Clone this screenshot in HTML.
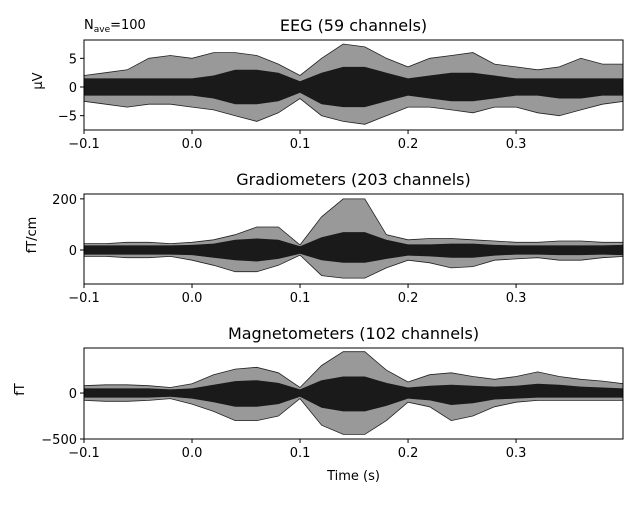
<!DOCTYPE html>
<html><head><meta charset="utf-8">
<style>
body{margin:0;background:#fff;}
svg text{font-family:"DejaVu Sans","Liberation Sans",sans-serif;fill:#000;}
</style></head>
<body>
<svg id="chart" width="640" height="500" xmlns="http://www.w3.org/2000/svg">
<rect width="640" height="500" fill="#fff"/>
<text x="84" y="29" font-size="13">N<tspan font-size="9" dy="3">ave</tspan><tspan dy="-3">=100</tspan></text>
</svg>
<script>
const times = [-0.1,-0.08,-0.06,-0.04,-0.02,0,0.02,0.04,0.06,0.08,0.1,0.12,0.14,0.16,0.18,0.2,0.22,0.24,0.26,0.28,0.3,0.32,0.34,0.36,0.38,0.4];
const xTicks = [-0.1,0.0,0.1,0.2,0.3];
const xTickLabels = ["\u22120.1","0.0","0.1","0.2","0.3"];

const eegUpper = [2,2.5,3,5,5.5,5,6,6,5.5,4,2,5,7.5,7,5,3.5,5,5.5,6,4,3.5,3,3.5,5,4,4];
const eegLower = [-2.5,-3,-3.5,-3,-3,-3.5,-4,-5,-6,-4.5,-2,-5,-6,-6.5,-5,-3.5,-3.5,-4,-4.5,-3.5,-3.5,-4.5,-5,-4,-3,-2.5];
const eegCoreUpper = [1.5,1.5,1.5,1.5,1.5,1.5,2,3,3,2.5,1,2.5,3.5,3.5,2.5,1.5,2,2.5,2.5,2,1.5,1.5,1.5,1.5,1.5,1.5];
const eegCoreLower = [-1.5,-1.5,-1.5,-1.5,-1.5,-1.5,-2,-3,-3,-2.5,-1,-3,-3.5,-3.5,-2.5,-1.5,-2,-2.5,-2.5,-2,-1.5,-1.5,-2,-2,-1.5,-1.5];
const eegTicks = [-5,0,5];
const eegTickLabels = ["\u22125","0","5"];

const gradUpper = [25,25,30,30,25,30,40,60,90,90,20,130,200,200,60,40,45,45,40,35,30,30,35,35,30,30];
const gradLower = [-25,-25,-30,-30,-25,-40,-60,-85,-85,-60,-20,-100,-110,-110,-70,-40,-50,-70,-65,-40,-35,-30,-40,-40,-30,-25];
const gradCoreUpper = [18,18,18,18,18,20,25,40,45,40,15,50,70,70,40,22,22,25,25,20,18,18,18,18,18,20];
const gradCoreLower = [-18,-18,-18,-18,-18,-20,-30,-40,-45,-35,-15,-40,-50,-50,-35,-22,-25,-30,-30,-22,-18,-18,-20,-20,-18,-20];
const gradTicks = [0,200];
const gradTickLabels = ["0","200"];

const magUpper = [80,90,90,80,60,100,200,260,280,220,60,300,450,450,250,120,200,220,180,150,180,230,180,150,130,100];
const magLower = [-80,-90,-90,-80,-60,-120,-200,-300,-300,-250,-60,-350,-450,-450,-300,-100,-150,-300,-250,-150,-100,-80,-80,-80,-80,-80];
const magCoreUpper = [50,50,50,50,40,50,90,130,140,110,40,140,180,180,110,60,80,90,80,70,80,100,90,70,60,50];
const magCoreLower = [-50,-50,-50,-50,-40,-60,-100,-150,-150,-120,-40,-160,-200,-200,-140,-60,-80,-130,-110,-70,-60,-50,-50,-50,-50,-50];
const magTicks = [-500,0];
const magTickLabels = ["\u2212500","0"];

const NS = "http://www.w3.org/2000/svg";
const svg = document.getElementById("chart");
function mk(tag, attrs, parent){const e=document.createElementNS(NS,tag);for(const k in attrs)e.setAttribute(k,attrs[k]);(parent||svg).appendChild(e);return e;}
const X0=84, X1=623, T0=-0.1, T1=0.399;
function xScale(t){return X0+(t-T0)/(T1-T0)*(X1-X0);}

const panels = [
 {key:"eeg", top:40, bot:130, ymin:-7.5, ymax:8.2, title:"EEG (59 channels)", ylabel:"\u00b5V", up:eegUpper, lo:eegLower, cu:eegCoreUpper, cl:eegCoreLower, ticks:eegTicks, labels:eegTickLabels, ylx:42},
 {key:"grad", top:194, bot:284, ymin:-133, ymax:219, title:"Gradiometers (203 channels)", ylabel:"fT/cm", up:gradUpper, lo:gradLower, cu:gradCoreUpper, cl:gradCoreLower, ticks:gradTicks, labels:gradTickLabels, ylx:36},
 {key:"mag", top:348, bot:439, ymin:-500, ymax:490, title:"Magnetometers (102 channels)", ylabel:"fT", up:magUpper, lo:magLower, cu:magCoreUpper, cl:magCoreLower, ticks:magTicks, labels:magTickLabels, ylx:24}
];

panels.forEach(p=>{
  const ys = v => p.bot-(v-p.ymin)/(p.ymax-p.ymin)*(p.bot-p.top);
  const g = mk("g",{});
  
  
  const cid="clip-"+p.key;
  const cp=mk("clipPath",{id:cid},g); mk("rect",{x:X0,y:p.top,width:X1-X0,height:p.bot-p.top},cp);
  const band=(u,l)=>{let d="";times.forEach((t,i)=>{d+=(i?"L":"M")+xScale(t).toFixed(1)+","+ys(u[i]).toFixed(1);});
    for(let i=times.length-1;i>=0;i--)d+="L"+xScale(times[i]).toFixed(1)+","+ys(l[i]).toFixed(1);return d+"Z";};
  const outer=mk("path",{d:band(p.up,p.lo),fill:"#999",stroke:"#222","stroke-width":0.8,"clip-path":"url(#"+cid+")"},g);
  
  
  const core=mk("path",{d:band(p.cu,p.cl),fill:"#1a1a1a","clip-path":"url(#"+cid+")"},g);
  
  
  const frame=mk("rect",{x:X0,y:p.top,width:X1-X0,height:p.bot-p.top,fill:"none",stroke:"#000","stroke-width":1},g);
  
  
  xTicks.forEach((t,i)=>{
    const x=xScale(t);
    mk("line",{x1:x,x2:x,y1:p.bot,y2:p.bot+4,stroke:"#000"},g);
    const tx=mk("text",{x:x,y:p.bot+18,"font-size":13,"text-anchor":"middle"},g);
    
    
    tx.textContent=xTickLabels[i];
  });
  p.ticks.forEach((v,i)=>{
    const y=ys(v);
    mk("line",{x1:X0-4,x2:X0,y1:y,y2:y,stroke:"#000"},g);
    const tx=mk("text",{x:X0-7,y:y+5,"font-size":13,"text-anchor":"end"},g);
    
    
    tx.textContent=p.labels[i];
  });
  const ti=mk("text",{x:(X0+X1)/2,y:p.top-9,"font-size":16,"text-anchor":"middle"},g);
  
  
  ti.textContent=p.title;
  const yc=(p.top+p.bot)/2;
  const yl=mk("text",{x:p.ylx+4,y:yc,"font-size":13,"text-anchor":"middle",transform:"rotate(-90 "+(p.ylx)+" "+yc+")"},g);
  
  
  yl.textContent=p.ylabel;
});
const xt=mk("text",{x:(X0+X1)/2,y:480,"font-size":13,"text-anchor":"middle"});


xt.textContent="Time (s)";
</script>
</body></html>
